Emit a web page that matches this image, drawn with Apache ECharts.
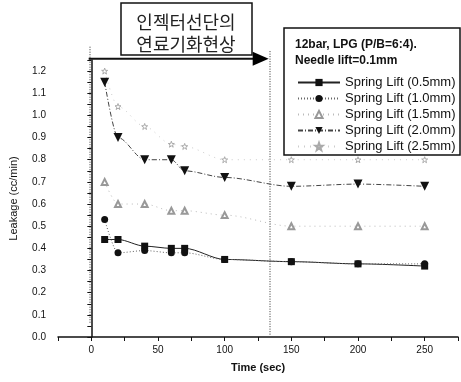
<!DOCTYPE html>
<html><head><meta charset="utf-8">
<script src="https://cdn.jsdelivr.net/npm/echarts@6/dist/echarts.min.js"></script>
<style>html,body{margin:0;padding:0;background:#fff}#c{width:461px;height:382px}</style>
</head><body><div id="c"></div>
<script>
const times = [10, 20, 40, 60, 70, 100, 150, 200, 250];
const lift05 = [0.44, 0.44, 0.41, 0.40, 0.40, 0.35, 0.34, 0.33, 0.32];
const lift10 = [0.53, 0.38, 0.39, 0.38, 0.38, 0.35, 0.34, 0.33, 0.33];
const lift15 = [0.70, 0.60, 0.60, 0.57, 0.57, 0.55, 0.50, 0.50, 0.50];
const lift20 = [1.15, 0.90, 0.80, 0.80, 0.75, 0.72, 0.68, 0.69, 0.68];
const lift25 = [1.20, 1.04, 0.95, 0.87, 0.86, 0.80, 0.80, 0.80, 0.80];
const seriesNames = ['Spring Lift (0.5mm)', 'Spring Lift (1.0mm)', 'Spring Lift (1.5mm)', 'Spring Lift (2.0mm)', 'Spring Lift (2.5mm)'];
const headerLines = ['12bar, LPG (P/B=6:4).', 'Needle lift=0.1mm'];
const noteLines = ['인젝터선단의', '연료기화현상'];
const markTimes = [-1, 134];

const pair = arr => times.map((t, i) => [t, arr[i]]);
const star = 'path://M0,-10 L2.4,-3.1 9.5,-3.1 3.8,1.2 5.9,8.1 0,4 -5.9,8.1 -3.8,1.2 -9.5,-3.1 -2.4,-3.1Z';
const font = 'Liberation Sans, Arial, sans-serif';

const chart = echarts.init(document.getElementById('c'));
chart.setOption({
  animation: false,
  backgroundColor: '#fff',
  grid: { left: 56, right: 1, top: 60, bottom: 45 },
  xAxis: {
    type: 'value', min: -25, max: 275, interval: 25,
    name: 'Time (sec)', nameLocation: 'middle', nameGap: 25,
    nameTextStyle: { fontFamily: font, fontSize: 11, fontWeight: 'bold', color: '#111' },
    axisLine: { lineStyle: { color: '#111', width: 1.5 } },
    axisTick: { length: 4, lineStyle: { color: '#111' } },
    axisLabel: { fontFamily: font, fontSize: 10, color: '#111', margin: 8,
      formatter: v => (v >= 0 && v <= 250 && v % 50 === 0) ? String(v) : '' },
    splitLine: { show: false }
  },
  yAxis: {
    type: 'value', min: 0, max: 1.25, interval: 0.05,
    name: 'Leakage (cc/min)', nameLocation: 'middle', nameGap: 39,
    nameTextStyle: { fontFamily: font, fontSize: 11, color: '#111' },
    axisLine: { show: true, lineStyle: { color: '#111', width: 1.5 } },
    axisTick: { length: 4, lineStyle: { color: '#111' } },
    axisLabel: { fontFamily: font, fontSize: 10, color: '#111', margin: 12,
      formatter: v => (Math.round(v * 100) % 10 === 0) ? v.toFixed(1) : '' },
    splitLine: { show: false }
  },
  legend: {
    orient: 'vertical', left: 292, top: 71,
    itemWidth: 42, itemHeight: 9, itemGap: 3,
    textStyle: { fontFamily: font, fontSize: 13, color: '#111', lineHeight: 13 },
    data: seriesNames
  },
  series: [
    { name: seriesNames[0], type: 'line', data: pair(lift05), smooth: 0.3, smoothMonotone: 'x',
      symbol: 'rect', symbolSize: 7, itemStyle: { color: '#111' },
      lineStyle: { color: '#222', width: 1 } },
    { name: seriesNames[1], type: 'line', data: pair(lift10), smooth: 0.3, smoothMonotone: 'x',
      symbol: 'circle', symbolSize: 7, itemStyle: { color: '#111' },
      lineStyle: { color: '#666', width: 1, type: [1, 2] } },
    { name: seriesNames[2], type: 'line', data: pair(lift15), smooth: 0.3, smoothMonotone: 'x',
      symbol: 'emptyTriangle', symbolSize: 6, itemStyle: { color: '#999', borderColor: '#999' },
      lineStyle: { color: '#bbb', width: 1, type: [1, 4] } },
    { name: seriesNames[3], type: 'line', data: pair(lift20), smooth: 0.3, smoothMonotone: 'x',
      symbol: 'triangle', symbolRotate: 180, symbolSize: 9, itemStyle: { color: '#111' },
      lineStyle: { color: '#444', width: 1, type: [5, 2, 1, 2] } },
    { name: seriesNames[4], type: 'line', data: pair(lift25), smooth: 0.3, smoothMonotone: 'x',
      symbol: star, symbolSize: 6, itemStyle: { color: '#fff', borderColor: '#aaa', borderWidth: 1 },
      lineStyle: { color: '#ccc', width: 1, type: [1, 5] } }
  ]
});

const px = (x, y) => chart.convertToPixel({ gridIndex: 0 }, [x, y]);
const l0a = px(markTimes[0], 1.31), l0b = px(markTimes[0], 0.06);
const l1a = px(markTimes[1], 1.29), l1b = px(markTimes[1], 0.01);
const arA = px(-2, 1.256), arB = px(133, 1.256);
chart.setOption({
  graphic: [
    { type: 'line', shape: { x1: l0a[0], y1: l0a[1], x2: l0b[0], y2: l0b[1] },
      style: { stroke: '#333', lineWidth: 1, lineDash: [1, 1.5] } },
    { type: 'line', shape: { x1: l1a[0], y1: l1a[1], x2: l1b[0], y2: l1b[1] },
      style: { stroke: '#333', lineWidth: 1, lineDash: [1, 1.5] } },
    { type: 'line', shape: { x1: arA[0], y1: arA[1], x2: arB[0] - 12, y2: arB[1] },
      style: { stroke: '#111', lineWidth: 2 } },
    { type: 'polygon', shape: { points: [[arB[0] - 16, arB[1] - 7], [arB[0], arB[1]], [arB[0] - 16, arB[1] + 7]] },
      style: { fill: '#000' } },
    { type: 'rect', shape: { x: 121, y: 3, width: 131, height: 52 },
      style: { fill: '#fff', stroke: '#111', lineWidth: 1.5 } },
    { type: 'text', x: 186, y: 22, style: { text: noteLines[0], fontFamily: 'Noto Sans CJK KR', fontSize: 18,
      fill: '#222', align: 'center', verticalAlign: 'middle' } },
    { type: 'text', x: 186, y: 44, style: { text: noteLines[1], fontFamily: 'Noto Sans CJK KR', fontSize: 18,
      fill: '#222', align: 'center', verticalAlign: 'middle' } },
    { type: 'rect', z: -1, shape: { x: 284, y: 28, width: 176, height: 127 },
      style: { fill: '#fff', stroke: '#111', lineWidth: 1.5 } },
    { type: 'text', x: 295, y: 45, style: { text: headerLines[0], fontFamily: font, fontSize: 12, fontWeight: 'bold',
      fill: '#111', verticalAlign: 'middle' } },
    { type: 'text', x: 295, y: 61, style: { text: headerLines[1], fontFamily: font, fontSize: 12, fontWeight: 'bold',
      fill: '#111', verticalAlign: 'middle' } }
  ]
});
</script></body></html>
